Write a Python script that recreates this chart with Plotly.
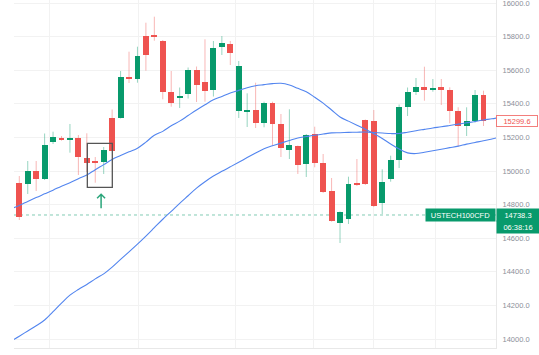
import plotly.graph_objects as go

# ---------------- data ----------------
opens = [14930.5, 14922.7, 15000.0, 14950.7, 15174.5, 15199.5, 15188.8, 15198.3, 15075.7, 15059.6,
         15053.7, 15317.3, 15313.8, 15555.4, 15545.9, 15805.4, 15805.4, 15775.7, 15472.1, 15436.4,
         15456.6, 15604.2, 15528.1, 15482.2, 15738.2, 15759.0, 15359.0, 15354.3, 15363.2, 15284.0,
         15406.6, 15278.1, 15125.1, 15148.9, 15041.8, 15217.4, 15045.9, 14881.1, 14688.8, 14712.6,
         14926.9, 15303.7, 15299.5, 14811.4, 14952.5, 15065.6, 15382.8, 15472.1, 15498.3, 15482.2,
         15498.3, 15482.2, 15359.0, 15267.9, 15299.5, 15452.5]
highs = [14970.3, 15059.6, 15059.6, 15223.3, 15234.0, 15208.4, 15279.9, 15214.4, 15224.5, 15083.4,
         15142.9, 15366.2, 15595.3, 15710.2, 15739.9, 15882.8, 15918.5, 15779.8, 15595.3, 15497.1,
         15616.1, 15622.1, 15784.0, 15773.9, 15803.6, 15773.9, 15654.8, 15462.6, 15525.7, 15412.6,
         15412.6, 15339.4, 15367.4, 15151.9, 15220.3, 15263.8, 15101.3, 14958.4, 14759.1, 14966.2,
         15071.5, 15306.6, 15363.2, 15010.2, 15091.2, 15395.9, 15497.1, 15553.6, 15620.9, 15547.7,
         15547.7, 15498.3, 15379.2, 15379.2, 15482.2, 15478.1]
lows = [14708.5, 14863.2, 14881.0, 14946.5, 15160.8, 15180.5, 15109.0, 14976.3, 14994.2, 14930.5,
        14982.3, 15119.1, 15312.6, 15523.9, 15525.7, 15597.1, 15775.7, 15426.9, 15382.8, 15375.1,
        15431.6, 15410.8, 15412.6, 15443.5, 15690.5, 15631.0, 15315.6, 15262.0, 15256.0, 15260.2,
        15148.9, 15083.4, 15071.5, 14982.3, 14964.4, 15022.1, 14869.2, 14698.3, 14571.6, 14684.7,
        14910.8, 14916.8, 14785.8, 14744.2, 14936.4, 15018.0, 15327.5, 15452.5, 15418.5, 15472.1,
        15392.9, 15284.0, 15144.7, 15208.4, 15287.6, 15267.9]
closes = [14724.5, 15000.1, 14952.5, 15154.9, 15204.3, 15188.8, 15196.5, 15081.7, 15049.5, 15051.9,
          15125.1, 15120.9, 15557.8, 15547.7, 15686.4, 15690.5, 15799.5, 15472.1, 15403.1, 15448.3,
          15601.3, 15512.0, 15478.1, 15730.4, 15762.0, 15700.7, 15625.1, 15363.2, 15284.0, 15406.6,
          15279.9, 15135.2, 15154.9, 15035.8, 15214.4, 15047.7, 14876.9, 14702.5, 14757.9, 14922.7,
          14916.8, 14922.7, 14793.6, 14936.4, 15065.6, 15379.2, 15468.5, 15498.3, 15482.2, 15494.1,
          15482.2, 15359.0, 15267.9, 15299.5, 15452.5, 15299.6]

# moving averages, one value per bar slot from -1 to 57
ma_short = [14774, 14795, 14819, 14842, 14864, 14886, 14910, 14930, 14954, 14976,
            15008, 15038, 15069, 15092, 15114, 15136, 15172, 15213, 15236, 15269,
            15297, 15330, 15363, 15394, 15424, 15444, 15464, 15480, 15496, 15508,
            15514, 15520, 15522, 15512, 15492, 15472, 15439, 15404, 15363, 15322,
            15297, 15273, 15249, 15222, 15194, 15161, 15131, 15108, 15104, 15112,
            15121, 15130, 15139, 15148, 15160, 15170, 15180, 15191, 15202]
ma_long = [13987, 14017, 14048, 14079, 14113, 14163, 14214, 14261, 14295, 14325,
           14358, 14388, 14428, 14474, 14519, 14565, 14613, 14663, 14713, 14760,
           14808, 14853, 14898, 14936, 14970, 14998, 15025, 15052, 15080, 15107,
           15133, 15150, 15166, 15182, 15197, 15205, 15213, 15220, 15227, 15228,
           15230, 15231, 15232, 15229, 15226, 15223, 15223, 15231, 15240, 15248,
           15256, 15263, 15271, 15279, 15287, 15295, 15304, 15311, 15320]

y_ticks = [14000, 14200, 14400, 14600, 14800, 15000, 15200, 15400, 15600, 15800, 16000]
x_grid = [3.55, 14.1, 25.6, 34.83, 41.94, 49.34]

symbol = "USTECH100CFD"
quote_price = 14738.3
quote_time = "06:38:16"

box_first_bar, box_last_bar = 8.06, 11.02
box_low, box_high = 14903, 15165
arrow_bar, arrow_price = 9.69, 14778

# ---------------- styles ----------------
GREEN = "#089a6c"
RED = "#ef5350"
GREEN_W = "rgba(8,154,108,0.42)"
RED_W = "rgba(239,83,80,0.42)"
BLUE = "#5285ef"
FONT = "Liberation Sans, Arial, sans-serif"

n = len(opens)
idx = list(range(n))
ma_x = list(range(-1, n + 2))

fig = go.Figure()

# wicks
for up, wc in ((True, GREEN_W), (False, RED_W)):
    xs, ys = [], []
    for i in idx:
        if (closes[i] >= opens[i]) == up:
            xs += [i, i, None]
            ys += [lows[i], highs[i], None]
    fig.add_trace(go.Scatter(x=xs, y=ys, mode="lines", line=dict(color=wc, width=1),
                             hoverinfo="skip"))

# bodies
min_body = 7
for up, bc in ((True, GREEN), (False, RED)):
    bx, bb, bh = [], [], []
    for i in idx:
        if (closes[i] >= opens[i]) == up:
            lo = min(opens[i], closes[i])
            h = abs(closes[i] - opens[i])
            if h < min_body:
                lo -= (min_body - h) / 2
                h = min_body
            bx.append(i); bb.append(lo); bh.append(h)
    fig.add_trace(go.Bar(x=bx, y=bh, base=bb, width=0.7, marker=dict(color=bc, line=dict(width=0))))

# moving averages
fig.add_trace(go.Scatter(x=ma_x, y=ma_long, mode="lines",
                         line=dict(color=BLUE, width=1.1, shape="spline")))
fig.add_trace(go.Scatter(x=ma_x, y=ma_short, mode="lines",
                         line=dict(color=BLUE, width=1.1, shape="spline")))

shapes = [
    dict(type="line", xref="paper", x0=0, x1=1, yref="y", y0=quote_price, y1=quote_price,
         line=dict(color="rgba(8,154,108,0.5)", width=1, dash="dot"), layer="below"),
    dict(type="rect", xref="x", yref="y", x0=box_first_bar, x1=box_last_bar, y0=box_low, y1=box_high,
         line=dict(color="#555555", width=1.3)),
    dict(type="path", xref="x", yref="y", xsizemode="pixel", ysizemode="pixel",
         xanchor=arrow_bar, yanchor=arrow_price,
         path="M0,0 L0,14 M-4,10 L0,14 L4,10",
         line=dict(color="#2aa57a", width=1.5)),
]

annotations = [
    dict(xref="paper", x=1, xanchor="right", yref="y", y=quote_price, yanchor="middle",
         text=symbol, showarrow=False, bgcolor=GREEN, width=65, height=8, borderpad=2,
         font=dict(family=FONT, size=7.5, color="white")),
    dict(xref="paper", x=1, xanchor="left", yref="y", y=quote_price, yanchor="middle",
         text=f"{quote_price:.1f}", showarrow=False, bgcolor=GREEN, width=38, height=8, borderpad=2,
         font=dict(family=FONT, size=7.5, color="white")),
    dict(xref="paper", x=1, xanchor="left", yref="y", y=quote_price, yanchor="middle", yshift=-11.6,
         text=quote_time, showarrow=False, bgcolor=GREEN, width=38, height=8, borderpad=2,
         font=dict(family=FONT, size=7.5, color="white")),
    dict(xref="paper", x=1, xanchor="left", yref="y", y=closes[-1], yanchor="middle",
         text=f"{closes[-1]:.1f}", showarrow=False, bgcolor="white", bordercolor="rgba(239,83,80,0.75)",
         borderwidth=1, width=38, height=8, borderpad=1,
         font=dict(family=FONT, size=7.5, color=RED)),
]

fig.update_layout(
    width=539, height=355,
    margin=dict(l=14, r=43, t=0, b=7),
    paper_bgcolor="white", plot_bgcolor="white",
    showlegend=False, barmode="overlay", bargap=0,
    shapes=shapes, annotations=annotations,
    xaxis=dict(range=[-0.628, 56.48], tickvals=x_grid, showticklabels=False, ticks="",
               showgrid=True, gridcolor="#f2f2f2", gridwidth=1, zeroline=False,
               showline=True, linecolor="#e8e8e8", linewidth=1, fixedrange=True),
    yaxis=dict(side="right", range=[13946.6, 16017.9], tickvals=y_ticks, tickformat=".1f",
               tickfont=dict(family=FONT, size=7.5, color="#8c8f99"), ticks="",
               ticklabelstandoff=4, ticklabeloverflow="allow",
               showgrid=True, gridcolor="#f2f2f2", gridwidth=1, zeroline=False,
               showline=True, linecolor="#e8e8e8", linewidth=1),
)

fig.write_html("out.html", config={"displayModeBar": False},
               post_script="document.body.style.margin='0';document.body.style.overflow='hidden';")
